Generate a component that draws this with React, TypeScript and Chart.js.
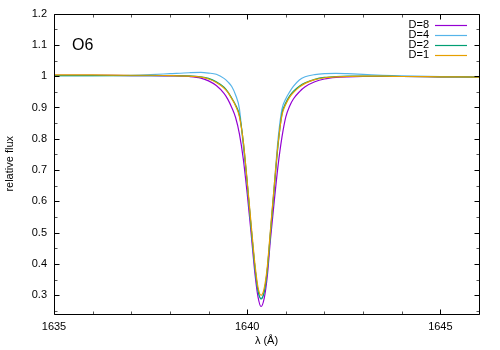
import React, { useEffect, useRef } from 'react';
import { Chart, registerables } from 'chart.js';

Chart.register(...registerables);

// wavelength grid (Å)
const lambda = [
  1635, 1636, 1637, 1637.5, 1638, 1638.5, 1638.8, 1639.0, 1639.2, 1639.4,
  1639.5, 1639.6, 1639.7, 1639.8, 1639.9, 1640.0, 1640.1, 1640.2, 1640.28, 1640.36,
  1640.44, 1640.52, 1640.6, 1640.7, 1640.8, 1640.9, 1641.0, 1641.1, 1641.2, 1641.35,
  1641.5, 1641.75, 1642.0, 1642.3, 1642.6, 1643.0, 1643.5, 1644.0, 1645.0, 1646.0,
];

const fluxD8 = [
  1.003, 1.003, 1.002, 1.002, 1.001, 0.999, 0.994, 0.985, 0.970, 0.945,
  0.926, 0.900, 0.868, 0.815, 0.735, 0.625, 0.500, 0.370, 0.295, 0.264,
  0.290, 0.360, 0.475, 0.600, 0.715, 0.805, 0.870, 0.905, 0.928, 0.950,
  0.966, 0.982, 0.991, 0.996, 0.998, 0.999, 0.999, 0.999, 0.998, 0.997,
];

const fluxD4 = [
  1.002, 1.002, 1.003, 1.005, 1.008, 1.011, 1.012, 1.010, 1.006, 0.993,
  0.982, 0.967, 0.940, 0.895, 0.775, 0.660, 0.520, 0.390, 0.315, 0.290,
  0.312, 0.382, 0.500, 0.650, 0.800, 0.895, 0.928, 0.950, 0.968, 0.988,
  0.998, 1.005, 1.008, 1.009, 1.008, 1.006, 1.003, 1.001, 0.999, 0.997,
];

const fluxD2 = [
  1.002, 1.002, 1.002, 1.002, 1.002, 1.001, 0.998, 0.993, 0.982, 0.965,
  0.950, 0.930, 0.908, 0.875, 0.790, 0.660, 0.520, 0.390, 0.315, 0.288,
  0.310, 0.380, 0.495, 0.640, 0.780, 0.880, 0.915, 0.937, 0.952, 0.968,
  0.979, 0.990, 0.996, 0.999, 1.000, 1.000, 1.000, 0.999, 0.998, 0.997,
];

const fluxD1 = [
  1.004, 1.004, 1.003, 1.003, 1.002, 1.000, 0.997, 0.991, 0.980, 0.962,
  0.948, 0.928, 0.905, 0.870, 0.790, 0.665, 0.530, 0.400, 0.325, 0.300,
  0.322, 0.390, 0.505, 0.650, 0.785, 0.875, 0.910, 0.933, 0.948, 0.965,
  0.977, 0.989, 0.995, 0.998, 0.999, 1.000, 1.000, 0.999, 0.998, 0.997,
];

const seriesLabels = ['D=8', 'D=4', 'D=2', 'D=1'];
const seriesValues = [fluxD8, fluxD4, fluxD2, fluxD1];
const seriesColors = ['#9400D3', '#56B4E9', '#009E73', '#E69F00'];

const xTicks = [1635, 1640, 1645];
const xMinorTicks = [1636, 1637, 1638, 1639, 1641, 1642, 1643, 1644, 1646];
const yTicks = [0.3, 0.4, 0.5, 0.6, 0.7, 0.8, 0.9, 1.0, 1.1, 1.2];
const yMinorTicks = [0.25, 0.35, 0.45, 0.55, 0.65, 0.75, 0.85, 0.95, 1.05, 1.15];

const panelLabel = 'O6';
const xTitle = 'λ (Å)';
const yTitle = 'relative flux';

const FONT_FAMILY = '"Liberation Sans", Arial, sans-serif';

const framePlugin = {
  id: 'gnuplotFrame',
  afterDraw(chart: any) {
    const { ctx, chartArea } = chart;
    const xs = chart.scales.x;
    const ys = chart.scales.y;
    const L = Math.round(chartArea.left) + 0.5;
    const R = Math.round(chartArea.right) + 0.5;
    const T = Math.round(chartArea.top) + 0.5;
    const B = Math.round(chartArea.bottom) + 0.5;
    ctx.save();
    ctx.strokeStyle = '#000';
    ctx.lineWidth = 1;
    ctx.beginPath();
    const tick = (len: number, vals: number[], axis: 'x' | 'y') => {
      vals.forEach((v) => {
        if (axis === 'x') {
          const px = Math.round(xs.getPixelForValue(v)) + 0.5;
          ctx.moveTo(px, B); ctx.lineTo(px, B - len);
          ctx.moveTo(px, T); ctx.lineTo(px, T + len);
        } else {
          const py = Math.round(ys.getPixelForValue(v)) + 0.5;
          ctx.moveTo(L, py); ctx.lineTo(L + len, py);
          ctx.moveTo(R, py); ctx.lineTo(R - len, py);
        }
      });
    };
    tick(5, xTicks, 'x');
    tick(5, yTicks, 'y');
    ctx.stroke();
    ctx.strokeStyle = '#555';
    ctx.beginPath();
    tick(3, xMinorTicks, 'x');
    tick(3, yMinorTicks, 'y');
    ctx.stroke();
    ctx.strokeStyle = '#000';
    ctx.beginPath();
    ctx.rect(L, T, R - L, B - T);
    ctx.stroke();

    // panel label
    ctx.fillStyle = '#000';
    ctx.font = `16px ${FONT_FAMILY}`;
    ctx.textAlign = 'left';
    ctx.textBaseline = 'alphabetic';
    ctx.fillText(panelLabel, chartArea.left + 18, chartArea.top + 36);

    // legend
    ctx.font = `11px ${FONT_FAMILY}`;
    ctx.textAlign = 'right';
    ctx.textBaseline = 'middle';
    chart.data.datasets.forEach((ds: any, i: number) => {
      const y = chartArea.top + 11 + i * 10;
      ctx.fillStyle = '#000';
      ctx.fillText(ds.label, chartArea.right - 50, y);
      ctx.strokeStyle = ds.borderColor;
      ctx.lineWidth = 1.2;
      ctx.beginPath();
      ctx.moveTo(chartArea.right - 44, Math.round(y) + 0.5);
      ctx.lineTo(chartArea.right - 12, Math.round(y) + 0.5);
      ctx.stroke();
    });
    ctx.restore();
  },
};

export default function App() {
  const ref = useRef<HTMLCanvasElement>(null);
  useEffect(() => {
    document.body.style.margin = '0';
    const canvas = ref.current;
    if (!canvas) return;
    const font = { family: FONT_FAMILY, size: 11 };
    const chart = new Chart(canvas, {
      type: 'line',
      data: {
        datasets: seriesLabels.map((label, i) => ({
          label,
          data: lambda.map((x, j) => ({ x, y: seriesValues[i][j] })),
          borderColor: seriesColors[i],
          backgroundColor: seriesColors[i],
          borderWidth: 1.2,
          pointRadius: 0,
          fill: false,
          cubicInterpolationMode: 'monotone' as const,
          order: seriesLabels.length - 1 - i,
        })),
      },
      options: {
        animation: false,
        responsive: false,
        devicePixelRatio: 1,
        layout: { padding: { top: 13, right: 21, left: 0, bottom: 0 } },
        plugins: { legend: { display: false }, tooltip: { enabled: false } },
        scales: {
          x: {
            type: 'linear',
            min: 1635,
            max: 1646,
            afterBuildTicks: (s: any) => { s.ticks = xTicks.map((v) => ({ value: v })); },
            afterFit: (s: any) => { s.height = 36; },
            grid: { display: false, drawTicks: false },
            border: { display: false },
            ticks: {
              font, color: '#000', padding: 6, maxRotation: 0, autoSkip: false,
              callback: (v: any) => String(v),
            },
            title: { display: true, text: xTitle, font, color: '#000', padding: { top: 0, bottom: 2 } },
          },
          y: {
            type: 'linear',
            min: 0.24,
            max: 1.2,
            afterBuildTicks: (s: any) => { s.ticks = yTicks.map((v) => ({ value: v })); },
            afterFit: (s: any) => { s.width = 54; },
            grid: { display: false, drawTicks: false },
            border: { display: false },
            ticks: {
              font, color: '#000', padding: 7, autoSkip: false,
              callback: (v: any) => String(Number(Number(v).toFixed(2))),
            },
            title: { display: true, text: yTitle, font, color: '#000', padding: { top: 3, bottom: 0 } },
          },
        },
      },
      plugins: [framePlugin],
    } as any);
    return () => chart.destroy();
  }, []);
  return (
    <div style={{ width: 500, height: 350 }}>
      <canvas ref={ref} width={500} height={350} style={{ display: 'block' }} />
    </div>
  );
}
